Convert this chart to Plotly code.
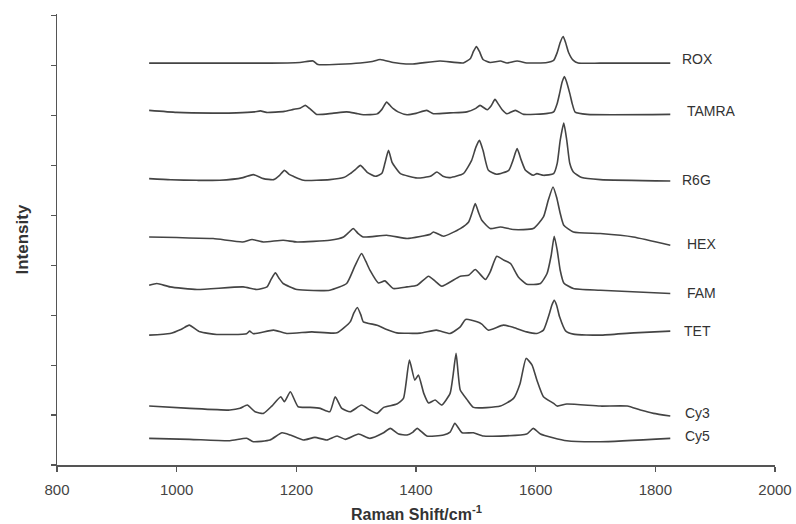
import plotly.graph_objects as go

# Raman shift (cm^-1) and intensity (arbitrary units, traces stacked)
rox_x = [954, 1145, 1206, 1228, 1236, 1307, 1327, 1340, 1362, 1374, 1395, 1440, 1479, 1491, 1496, 1501, 1506, 1512, 1524, 1541, 1552, 1569, 1585, 1619, 1630, 1636, 1641, 1646, 1650, 1655, 1663, 1671, 1708, 1825]
rox_y = [402.3, 402.3, 403, 404.5, 401, 402.5, 404, 406, 403, 402, 401.5, 404.5, 402.5, 407, 414, 419, 414, 406, 403, 404.5, 402.5, 404.5, 402.5, 403, 405, 413, 423, 429, 423, 413, 405, 402.5, 402.3, 402.3]

tamra_x = [954, 1000, 1060, 1100, 1130, 1140, 1150, 1180, 1195, 1207, 1215, 1222, 1234, 1260, 1284, 1300, 1312, 1335, 1343, 1351, 1358, 1362, 1370, 1385, 1400, 1418, 1429, 1457, 1485, 1500, 1507, 1519, 1526, 1532, 1538, 1544, 1552, 1566, 1580, 1620, 1630, 1636, 1640, 1644, 1648, 1652, 1657, 1661, 1666, 1686, 1825]
tamra_y = [355, 353, 352.3, 352.5, 353.5, 354.5, 353, 354, 356, 357.5, 360, 357, 351, 352, 353.5, 352, 350.7, 351.5, 356, 363.3, 359, 356.7, 353.5, 350.7, 352, 355, 351.7, 352.5, 353.5, 357, 360, 355.7, 360, 366, 361, 355.7, 351.7, 355, 351, 352, 353.5, 362, 372, 383, 389, 383, 372, 362, 353.3, 351, 351]

r6g_x = [954, 990, 1034, 1072, 1111, 1128, 1145, 1162, 1172, 1180, 1188, 1195, 1212, 1256, 1279, 1290, 1299, 1307, 1314, 1318, 1332, 1343, 1348, 1354, 1360, 1365, 1374, 1402, 1424, 1435, 1445, 1457, 1479, 1493, 1500, 1506, 1512, 1521, 1535, 1555, 1562, 1569, 1576, 1583, 1596, 1602, 1613, 1630, 1636, 1641, 1647, 1652, 1657, 1663, 1677, 1708, 1825]
r6g_y = [286.7, 285.5, 285, 285, 287.7, 290.7, 286.7, 285.7, 290, 295, 291, 289, 285, 285.7, 287.7, 291.7, 296, 300, 296, 293.3, 289, 292, 302, 315, 303, 298.3, 291.7, 287.3, 289, 293.3, 289, 287.7, 291.7, 305, 318, 325, 315, 295, 291, 295, 305, 316.7, 305, 295, 290, 291.7, 290, 291.7, 302, 325, 342.3, 325, 302, 293.3, 287.7, 285.7, 284.3]

hex_x = [954, 1000, 1061, 1110, 1126, 1145, 1178, 1201, 1256, 1279, 1288, 1295, 1303, 1312, 1351, 1385, 1407, 1424, 1429, 1446, 1474, 1488, 1494, 1499, 1505, 1510, 1524, 1541, 1563, 1596, 1613, 1621, 1629, 1635, 1641, 1647, 1663, 1708, 1763, 1825]
hex_y = [228.3, 227.7, 226.7, 223.3, 225.7, 223.3, 225, 223.3, 225, 228.3, 233, 236.7, 232, 228.3, 230, 226.7, 228.7, 231, 233.3, 229, 236.7, 243.3, 253, 261.7, 252, 245, 236.7, 238.3, 235.7, 236.7, 248.3, 265, 278.3, 268, 252, 240, 233.3, 231.7, 228.3, 220]

fam_x = [954, 967, 989, 1034, 1111, 1134, 1151, 1158, 1165, 1171, 1178, 1201, 1256, 1284, 1297, 1309, 1316, 1323, 1337, 1348, 1362, 1385, 1402, 1421, 1432, 1443, 1474, 1488, 1499, 1516, 1524, 1535, 1547, 1558, 1571, 1585, 1608, 1619, 1626, 1631, 1636, 1641, 1647, 1663, 1708, 1825]
fam_y = [180, 181.7, 178.3, 175.7, 178.3, 175.7, 178.3, 186, 192.3, 187, 181.7, 175.7, 175, 181.7, 198, 211.7, 204, 195, 182.3, 184.3, 176.7, 178.3, 180, 189, 184, 179, 189, 190, 195.7, 185.7, 193.3, 209, 205, 201.7, 188.3, 181, 181.7, 191.7, 210, 229, 215, 195, 182.3, 176.7, 175, 171.7]

tet_x = [954, 989, 1008, 1021, 1039, 1067, 1117, 1122, 1128, 1162, 1184, 1226, 1268, 1290, 1296, 1302, 1308, 1312, 1335, 1351, 1368, 1407, 1434, 1457, 1474, 1483, 1502, 1510, 1521, 1546, 1563, 1585, 1602, 1613, 1623, 1627, 1631, 1635, 1640, 1650, 1663, 1708, 1764, 1825]
tet_y = [130, 131.7, 136, 140, 133.3, 130.7, 131.5, 134, 131.5, 135, 131.7, 133.3, 132.3, 143.3, 152, 157.7, 150, 143.3, 140, 135.7, 132.3, 132, 135, 131.7, 138.3, 145.7, 143.3, 141, 135, 140, 137.7, 133.3, 131.7, 135, 151.7, 160, 165, 160, 148.3, 134.3, 131, 130, 132.3, 134]

cy3_x = [954, 1022, 1089, 1106, 1118, 1131, 1145, 1159, 1174, 1180, 1190, 1203, 1223, 1240, 1256, 1265, 1276, 1290, 1309, 1323, 1335, 1346, 1368, 1379, 1389, 1398, 1404, 1413, 1421, 1432, 1443, 1457, 1462, 1467, 1474, 1485, 1496, 1541, 1563, 1574, 1584, 1594, 1602, 1613, 1630, 1636, 1652, 1708, 1753, 1775, 1797, 1825]
cy3_y = [59, 56.7, 55, 56.7, 60, 53.3, 51.7, 59, 68.3, 63.3, 73.3, 58.3, 57.7, 56.7, 53.3, 68.3, 56.7, 53.3, 60, 55, 51.7, 57.7, 61, 66.7, 105, 85, 90, 71.7, 62, 65, 60, 71.7, 90, 111.7, 75, 65.7, 57.7, 59, 66.7, 81.7, 106.7, 100, 85, 68.3, 61.7, 59, 61, 59, 59, 55, 51.7, 49]

cy5_x = [954, 1022, 1089, 1117, 1128, 1156, 1176, 1190, 1212, 1231, 1251, 1268, 1282, 1304, 1323, 1345, 1357, 1371, 1385, 1395, 1402, 1418, 1446, 1457, 1465, 1477, 1496, 1513, 1585, 1596, 1608, 1652, 1708, 1825]
cy5_y = [26.7, 25.7, 24.3, 26.7, 23.3, 25, 32.3, 30, 25, 27.7, 25, 29, 25.7, 31, 26.7, 32, 36.7, 31, 30, 33, 36.7, 29, 30, 33, 41.7, 32.3, 32.3, 29, 31, 36.7, 31, 24.3, 23.3, 26.7]

names = ["ROX", "TAMRA", "R6G", "HEX", "FAM", "TET", "Cy3", "Cy5"]
xs = [rox_x, tamra_x, r6g_x, hex_x, fam_x, tet_x, cy3_x, cy5_x]
ys = [rox_y, tamra_y, r6g_y, hex_y, fam_y, tet_y, cy3_y, cy5_y]
label_x = [1842, 1849, 1842, 1849, 1849, 1844, 1847, 1847]
label_y = [406, 354, 285.7, 221.7, 172.3, 134.3, 51.7, 29]

x_ticks = [800, 1000, 1200, 1400, 1600, 1800, 2000]

FONT = "Liberation Sans, Arial, sans-serif"

fig = go.Figure()
for n, x, y in zip(names, xs, ys):
    fig.add_trace(go.Scatter(x=x, y=y, mode="lines", name=n,
                             line=dict(color="#444444", width=1.6, shape="spline", smoothing=0.5),
                             showlegend=False, hoverinfo="skip"))

for n, lx, ly in zip(names, label_x, label_y):
    fig.add_annotation(x=lx, y=ly, text=n, showarrow=False, xanchor="left",
                       yanchor="middle", font=dict(family=FONT, size=14, color="#333333"))

# axis titles
fig.add_annotation(x=0.5, y=0, xref="paper", yref="paper", yshift=-48, yanchor="middle",
                   text="<b>Raman Shift/cm<sup>-1</sup></b>", showarrow=False,
                   font=dict(family=FONT, size=16, color="#333333"))
fig.add_annotation(x=0, y=0.5, xref="paper", yref="paper", xshift=-35, xanchor="center",
                   yanchor="middle", textangle=-90, text="<b>Intensity</b>", showarrow=False,
                   font=dict(family=FONT, size=17, color="#333333"))

fig.update_layout(
    width=796, height=524,
    margin=dict(l=57, r=21, t=13.5, b=59, autoexpand=False),
    paper_bgcolor="white", plot_bgcolor="white",
    font=dict(family=FONT, size=15, color="#444444"),
)
fig.update_xaxes(range=[800, 2000], tickvals=x_ticks, ticktext=[str(v) for v in x_ticks],
                 automargin=False, ticklabelstandoff=5,
                 showgrid=False, zeroline=False, showline=True, linecolor="#555555", linewidth=1.5,
                 ticks="outside", ticklen=5, tickcolor="#555555", tickwidth=1.2,
                 tickfont=dict(family=FONT, size=15, color="#444444"))
fig.update_yaxes(range=[0, 451.5], tick0=0, dtick=50, showticklabels=False, automargin=False,
                 showgrid=False, zeroline=False, showline=True, linecolor="#555555", linewidth=1.5,
                 ticks="outside", ticklen=5, tickcolor="#555555", tickwidth=1.2)

fig.write_html("out.html", config={"displayModeBar": False, "staticPlot": True},
               post_script="document.body.style.margin='0';document.body.style.padding='0';"
                           "document.body.style.overflow='hidden';")
